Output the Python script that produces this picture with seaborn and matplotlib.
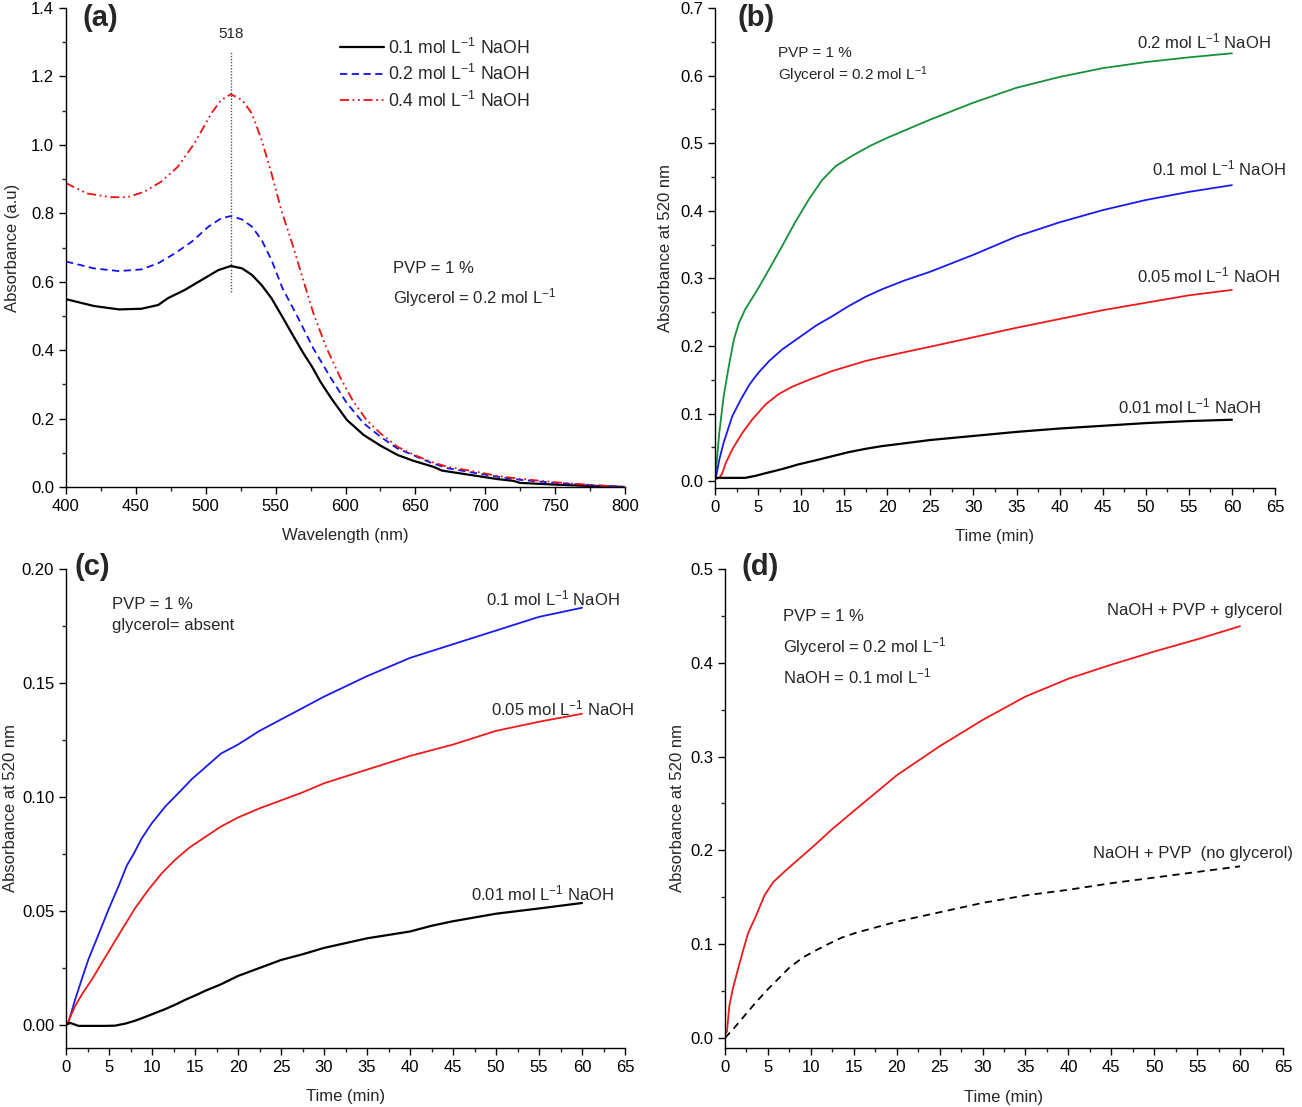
import matplotlib
matplotlib.use("Agg")
import matplotlib.pyplot as plt
import seaborn as sns
import pandas as pd
from matplotlib.ticker import AutoMinorLocator, MultipleLocator, FormatStrFormatter

# ---------------- Panel (a) ----------------
wl_01 = [400, 420, 438, 454, 466, 473, 485, 497, 509, 518, 526, 533, 540, 547, 554, 562, 570, 576,
         582, 590, 601, 613, 625, 637, 649, 663, 669, 685, 709, 720, 725, 750, 775, 800]
abs_01 = [0.549, 0.529, 0.519, 0.521, 0.532, 0.552, 0.576, 0.605, 0.634, 0.646, 0.639, 0.620, 0.590,
          0.552, 0.503, 0.446, 0.390, 0.352, 0.308, 0.258, 0.196, 0.152, 0.121, 0.094, 0.076, 0.059,
          0.048, 0.038, 0.023, 0.018, 0.012, 0.007, 0.003, 0.000]
wl_02 = [400, 420, 438, 454, 466, 478, 490, 502, 511, 518, 526, 533, 540, 547, 555, 565, 577, 589,
         601, 613, 625, 637, 649, 661, 673, 697, 709, 725, 750, 775, 800]
abs_02 = [0.659, 0.639, 0.631, 0.636, 0.654, 0.683, 0.717, 0.761, 0.785, 0.792, 0.782, 0.761, 0.722,
          0.664, 0.580, 0.503, 0.405, 0.322, 0.245, 0.186, 0.147, 0.113, 0.092, 0.071, 0.055, 0.038,
          0.030, 0.021, 0.012, 0.006, 0.000]
wl_04 = [400, 415, 432, 444, 456, 468, 480, 492, 504, 511, 518, 526, 533, 540, 547, 554, 562, 569,
         577, 586, 596, 605, 615, 625, 637, 649, 661, 673, 697, 709, 725, 750, 775, 800]
abs_04 = [0.888, 0.858, 0.847, 0.847, 0.863, 0.892, 0.936, 1.005, 1.092, 1.131, 1.148, 1.131, 1.092,
          1.014, 0.917, 0.810, 0.710, 0.615, 0.508, 0.410, 0.322, 0.254, 0.196, 0.157, 0.118, 0.094,
          0.074, 0.059, 0.042, 0.032, 0.024, 0.014, 0.006, 0.000]
labels_a = ["0.1 mol L$^{-1}$ NaOH", "0.2 mol L$^{-1}$ NaOH", "0.4 mol L$^{-1}$ NaOH"]
peak_nm = 518

# ---------------- Panel (b) ----------------
t_b_02 = [0, 0.1, 0.5, 1, 1.6, 2.2, 2.8, 3.5, 5, 6.3, 7.8, 9.3, 10.9, 12.4, 14, 16, 18, 20, 25, 30,
          35, 40, 45, 50, 55, 60]
b_02 = [0.0, 0.015, 0.072, 0.125, 0.170, 0.210, 0.235, 0.254, 0.285, 0.314, 0.348, 0.383, 0.417,
        0.445, 0.466, 0.482, 0.496, 0.508, 0.535, 0.560, 0.582, 0.598, 0.611, 0.620, 0.627, 0.633]
t_b_01 = [0, 0.1, 0.5, 1, 2, 3, 4, 5, 6.3, 7.8, 9.7, 11.7, 13.6, 15.5, 17.5, 19.4, 22, 25, 30, 35,
          40, 45, 50, 55, 60]
b_01 = [0.003, 0.005, 0.032, 0.057, 0.096, 0.121, 0.143, 0.160, 0.178, 0.195, 0.212, 0.230, 0.244,
        0.259, 0.273, 0.284, 0.297, 0.310, 0.335, 0.362, 0.383, 0.401, 0.416, 0.428, 0.438]
t_b_005 = [0, 0.5, 0.85, 1.25, 2, 3.2, 4.3, 5.9, 7.4, 9, 10.9, 13.6, 17.5, 21.3, 25, 30, 35, 40, 45,
           50, 55, 60]
b_005 = [0.003, 0.005, 0.012, 0.027, 0.047, 0.072, 0.091, 0.114, 0.129, 0.140, 0.150, 0.163, 0.178,
         0.189, 0.199, 0.213, 0.227, 0.240, 0.253, 0.264, 0.275, 0.283]
t_b_001 = [0, 3.5, 4.7, 5.9, 7.8, 9.7, 11.7, 13.6, 15.5, 17.5, 19.4, 21.3, 25, 30, 35, 40, 45, 50,
           55, 60]
b_001 = [0.005, 0.005, 0.008, 0.012, 0.018, 0.025, 0.031, 0.037, 0.043, 0.048, 0.052, 0.055, 0.061,
         0.067, 0.073, 0.078, 0.082, 0.086, 0.089, 0.091]

# ---------------- Panel (c) ----------------
t_c_01 = [0, 0.27, 1.05, 1.83, 2.6, 3.77, 4.94, 6.1, 7.08, 7.86, 8.83, 10, 11.56, 13.1, 14.67, 16.2,
          18, 20, 22.5, 25, 27.5, 30, 35, 40, 45, 50, 55, 60]
c_01 = [0.0, 0.001, 0.011, 0.020, 0.0287, 0.0396, 0.0506, 0.0608, 0.0700, 0.0750, 0.0820, 0.0886,
        0.0959, 0.1018, 0.1080, 0.1130, 0.1190, 0.1230, 0.1290, 0.1340, 0.1390, 0.1440, 0.1530,
        0.1610, 0.1670, 0.1730, 0.1790, 0.1830]
t_c_005 = [0, 0.27, 1.05, 1.83, 3, 4.16, 5.33, 6.5, 8.05, 9.6, 11.17, 12.7, 14.28, 16.2, 18, 20,
           22.5, 25, 27.5, 30, 35, 40, 45, 50, 55, 60]
c_005 = [0.0, 0.0016, 0.0082, 0.0133, 0.0199, 0.0272, 0.0345, 0.0418, 0.0513, 0.0594, 0.0667,
         0.0725, 0.0776, 0.0825, 0.0870, 0.0910, 0.0950, 0.0985, 0.1020, 0.1060, 0.1120, 0.1180,
         0.1230, 0.1290, 0.1330, 0.1365]
t_c_001 = [0, 0.47, 0.86, 1.44, 3, 4.55, 5.7, 6.9, 8.05, 9.2, 10.4, 11.56, 12.7, 13.9, 15.06, 16.2,
           18, 20, 22.5, 25, 27.5, 30, 35, 40, 42.5, 45, 50, 55, 60]
c_001 = [0.0, 0.0009, 0.0004, -0.0004, -0.0004, -0.0004, -0.0003, 0.0006, 0.0019, 0.0035, 0.0053,
         0.0070, 0.0089, 0.0111, 0.0130, 0.0150, 0.0178, 0.0215, 0.0250, 0.0285, 0.0310, 0.0338,
         0.0380, 0.0410, 0.0435, 0.0455, 0.0488, 0.0511, 0.0535]

# ---------------- Panel (d) ----------------
t_d_gly = [0, 0.23, 0.5, 0.9, 1.5, 2.1, 2.7, 3.6, 4.6, 5.6, 7, 8.5, 10.5, 12.4, 15, 20, 25, 30, 35,
           40, 45, 50, 55, 60]
d_glycerol = [0.004, 0.007, 0.034, 0.052, 0.073, 0.093, 0.112, 0.130, 0.152, 0.166, 0.178, 0.190,
              0.206, 0.222, 0.242, 0.280, 0.311, 0.339, 0.364, 0.383, 0.398, 0.412, 0.425, 0.439]
t_d_nogly = [0, 1.1, 2.3, 3.6, 5, 6.2, 7.5, 9.1, 10.5, 12, 13.6, 15.2, 20, 25, 30, 35, 40, 45, 50,
             55, 60]
d_noglycerol = [0.0, 0.011, 0.024, 0.038, 0.052, 0.063, 0.075, 0.086, 0.093, 0.100, 0.107, 0.112,
                0.124, 0.134, 0.144, 0.152, 0.158, 0.165, 0.171, 0.177, 0.183]

# ---------------- style ----------------
sns.set_style("ticks")
plt.rcParams['font.family'] = ['Liberation Sans', 'DejaVu Sans']
plt.rcParams['mathtext.default'] = 'regular'
plt.rcParams['axes.linewidth'] = 1.0

fig = plt.figure(figsize=(13.02, 11.07), dpi=100)
W, H = 1302, 1107


def add_ax(l, r, t, b):
    return fig.add_axes([l / W, 1 - b / H, (r - l) / W, (b - t) / H])


def style_ax(ax):
    sns.despine(ax=ax)
    ax.tick_params(which='major', direction='out', length=5, width=1, labelsize=12, colors='black')
    ax.tick_params(which='minor', direction='out', length=3, width=1)
    ax.xaxis.set_minor_locator(AutoMinorLocator(2))
    ax.yaxis.set_minor_locator(AutoMinorLocator(2))
    for s in ax.spines.values():
        s.set_color('black')


def line(ax, x, y, color, ls='-', label=None, lw=1.3):
    df = pd.DataFrame({'x': x, 'y': y})
    sns.lineplot(data=df, x='x', y='y', ax=ax, color=color, linestyle=ls, linewidth=lw,
                 label=label, legend=False, sort=False)


# ----- (a) -----
ax = add_ax(66, 625, 8, 487)
line(ax, wl_01, abs_01, 'black', '-', labels_a[0], lw=1.6)
line(ax, wl_02, abs_02, '#1010ee', (0, (4, 2.5)), labels_a[1])
line(ax, wl_04, abs_04, '#ee1010', (0, (5, 2, 1, 2, 1, 2)), labels_a[2])
ax.vlines(peak_nm, 0.57, 1.27, color='#555555', linestyle=(0, (1, 1.2)), linewidth=1.0)
ax.text(peak_nm, 1.325, str(peak_nm), ha='center', va='center', fontsize=11)
ax.set_xlim(400, 800)
ax.set_ylim(0, 1.4)
ax.xaxis.set_major_locator(MultipleLocator(50))
ax.yaxis.set_major_locator(MultipleLocator(0.2))
ax.yaxis.set_major_formatter(FormatStrFormatter('%.1f'))
style_ax(ax)
ax.set_xlabel('Wavelength (nm)', fontsize=12, labelpad=10)
ax.set_ylabel('Absorbance (a.u)', fontsize=12, labelpad=8)
ax.legend(frameon=False, loc='upper left', bbox_to_anchor=(0.478, 0.953), fontsize=12.7,
          handlelength=2.5, handletextpad=0.2, labelspacing=0.36, borderaxespad=0)
ax.text(634, 0.64, 'PVP = 1 %', fontsize=12, va='center')
ax.text(634, 0.555, 'Glycerol = 0.2 mol L$^{-1}$', fontsize=12, va='center')
ax.text(0.03, 0.98, '(a)', transform=ax.transAxes, fontsize=21, fontweight='bold', va='center')

# ----- (b) -----
ax = add_ax(715, 1275, 8, 488)
line(ax, t_b_02, b_02, '#16913a')
line(ax, t_b_01, b_01, '#1a1aee')
line(ax, t_b_005, b_005, '#ee1a1a')
line(ax, t_b_001, b_001, 'black', lw=1.6)
ax.set_xlim(0, 65)
ax.set_ylim(-0.01, 0.7)
ax.xaxis.set_major_locator(MultipleLocator(5))
ax.yaxis.set_major_locator(MultipleLocator(0.1))
ax.yaxis.set_major_formatter(FormatStrFormatter('%.1f'))
style_ax(ax)
ax.set_xlabel('Time (min)', fontsize=12, labelpad=10)
ax.set_ylabel('Absorbance at 520 nm', fontsize=12, labelpad=5)
ax.text(49.0, 0.650, '0.2 mol L$^{-1}$ NaOH', fontsize=12, va='center')
ax.text(50.7, 0.463, '0.1 mol L$^{-1}$ NaOH', fontsize=12, va='center')
ax.text(49.0, 0.305, '0.05 mol L$^{-1}$ NaOH', fontsize=12, va='center')
ax.text(46.8, 0.110, '0.01 mol L$^{-1}$ NaOH', fontsize=12, va='center')
ax.text(7.3, 0.634, 'PVP = 1 %', fontsize=11, va='center')
ax.text(7.3, 0.600, 'Glycerol = 0.2 mol L$^{-1}$', fontsize=11, va='center')
ax.text(0.04, 0.98, '(b)', transform=ax.transAxes, fontsize=21, fontweight='bold', va='center')

# ----- (c) -----
ax = add_ax(66, 625, 569, 1048)
line(ax, t_c_01, c_01, '#1a1aee')
line(ax, t_c_005, c_005, '#ee1a1a')
line(ax, t_c_001, c_001, 'black', lw=1.6)
ax.set_xlim(0, 65)
ax.set_ylim(-0.0101, 0.2)
ax.xaxis.set_major_locator(MultipleLocator(5))
ax.yaxis.set_major_locator(MultipleLocator(0.05))
ax.yaxis.set_major_formatter(FormatStrFormatter('%.2f'))
style_ax(ax)
ax.set_xlabel('Time (min)', fontsize=12, labelpad=10)
ax.set_ylabel('Absorbance at 520 nm', fontsize=12, labelpad=3)
ax.text(48.8, 0.187, '0.1 mol L$^{-1}$ NaOH', fontsize=12, va='center')
ax.text(49.4, 0.139, '0.05 mol L$^{-1}$ NaOH', fontsize=12, va='center')
ax.text(47.1, 0.0575, '0.01 mol L$^{-1}$ NaOH', fontsize=12, va='center')
ax.text(5.4, 0.1845, 'PVP = 1 %', fontsize=12, va='center')
ax.text(5.4, 0.175, 'glycerol= absent', fontsize=12, va='center')
ax.text(0.015, 1.005, '(c)', transform=ax.transAxes, fontsize=21, fontweight='bold', va='center')

# ----- (d) -----
ax = add_ax(725, 1283, 569, 1048)
line(ax, t_d_gly, d_glycerol, '#ee1a1a')
line(ax, t_d_nogly, d_noglycerol, 'black', (0, (4, 3)))
ax.set_xlim(0, 65)
ax.set_ylim(-0.0107, 0.5)
ax.xaxis.set_major_locator(MultipleLocator(5))
ax.yaxis.set_major_locator(MultipleLocator(0.1))
ax.yaxis.set_major_formatter(FormatStrFormatter('%.1f'))
style_ax(ax)
ax.set_xlabel('Time (min)', fontsize=12, labelpad=11)
ax.set_ylabel('Absorbance at 520 nm', fontsize=12, labelpad=4)
ax.text(44.5, 0.456, 'NaOH + PVP + glycerol', fontsize=12, va='center')
ax.text(42.9, 0.197, 'NaOH + PVP  (no glycerol)', fontsize=12, va='center')
ax.text(6.8, 0.449, 'PVP = 1 %', fontsize=12, va='center')
ax.text(6.8, 0.417, 'Glycerol = 0.2 mol L$^{-1}$', fontsize=12, va='center')
ax.text(6.8, 0.385, 'NaOH = 0.1 mol L$^{-1}$', fontsize=12, va='center')
ax.text(0.03, 1.005, '(d)', transform=ax.transAxes, fontsize=21, fontweight='bold', va='center')

fig.savefig('out.png', dpi=100, facecolor='white')
